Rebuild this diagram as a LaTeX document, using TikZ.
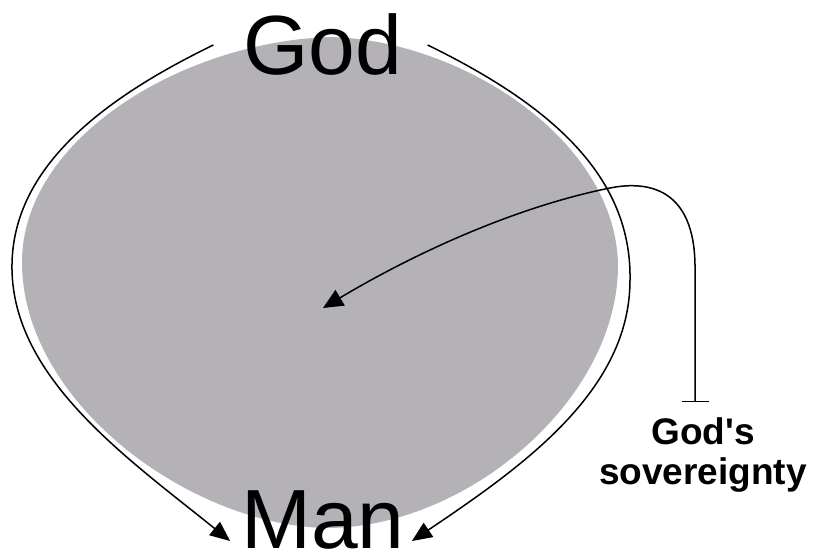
\documentclass[tikz,border=0pt]{standalone}
\usepackage{fontspec}
\setmainfont{Liberation Sans}
\usepackage{tikz}
\usetikzlibrary{arrows.meta,positioning,calc}
\definecolor{blobgray}{RGB}{180,178,182}
\tikzset{
  bigword/.style={inner sep=0pt, font=\fontsize{84}{90}\selectfont},
  smallword/.style={inner sep=0pt, align=center, font=\fontsize{37}{40}\selectfont\bfseries},
  sweep/.style={line width=1.5pt, -{Triangle[length=20pt,width=17pt]}},
}

\begin{document}
\begin{tikzpicture}[x=1pt, y=-1pt]
  \useasboundingbox (0,0) rectangle (813,553);
  % Gray blob
  \fill[blobgray] (330,37) .. controls (462,40) and (616,140) .. (618,265)
    .. controls (618,400) and (468,526) .. (330,528)
    .. controls (195,528) and (22,405) .. (22,262)
    .. controls (22,140) and (180,42) .. cycle;

  % Words
  \node[bigword, anchor=base] (god) at (323,75) {God};
  \node[bigword, anchor=base] (man) at (323,548) {Man};
  \coordinate (bar) at (695,402);
  \coordinate (centre) at (323,308);
  \node[smallword, below=15pt of bar, xshift=8pt] (sov) {God\textquotesingle s\\sovereignty};

  % Side arrows
  \draw[sweep] ([xshift=-30pt]god.west) .. controls (100,100) and (10,170) .. (12,270)
    .. controls (14,380) and (130,460) .. ([shift={(-11pt,8pt)}]man.south west);
  \draw[sweep] ([xshift=25pt]god.east) .. controls (540,100) and (632,170) .. (630,280)
    .. controls (630,390) and (525,465) .. ([shift={(7pt,8pt)}]man.south east);

  % Sovereignty arrow
  \draw[line width=1.5pt, {Bar[width=27pt]}-{Triangle[length=20pt,width=18pt]}]
    (bar) -- (695,265) .. controls (694,190) and (650,180) .. (610,188)
    .. controls (520,206) and (420,250) .. (centre);
\end{tikzpicture}
\end{document}
